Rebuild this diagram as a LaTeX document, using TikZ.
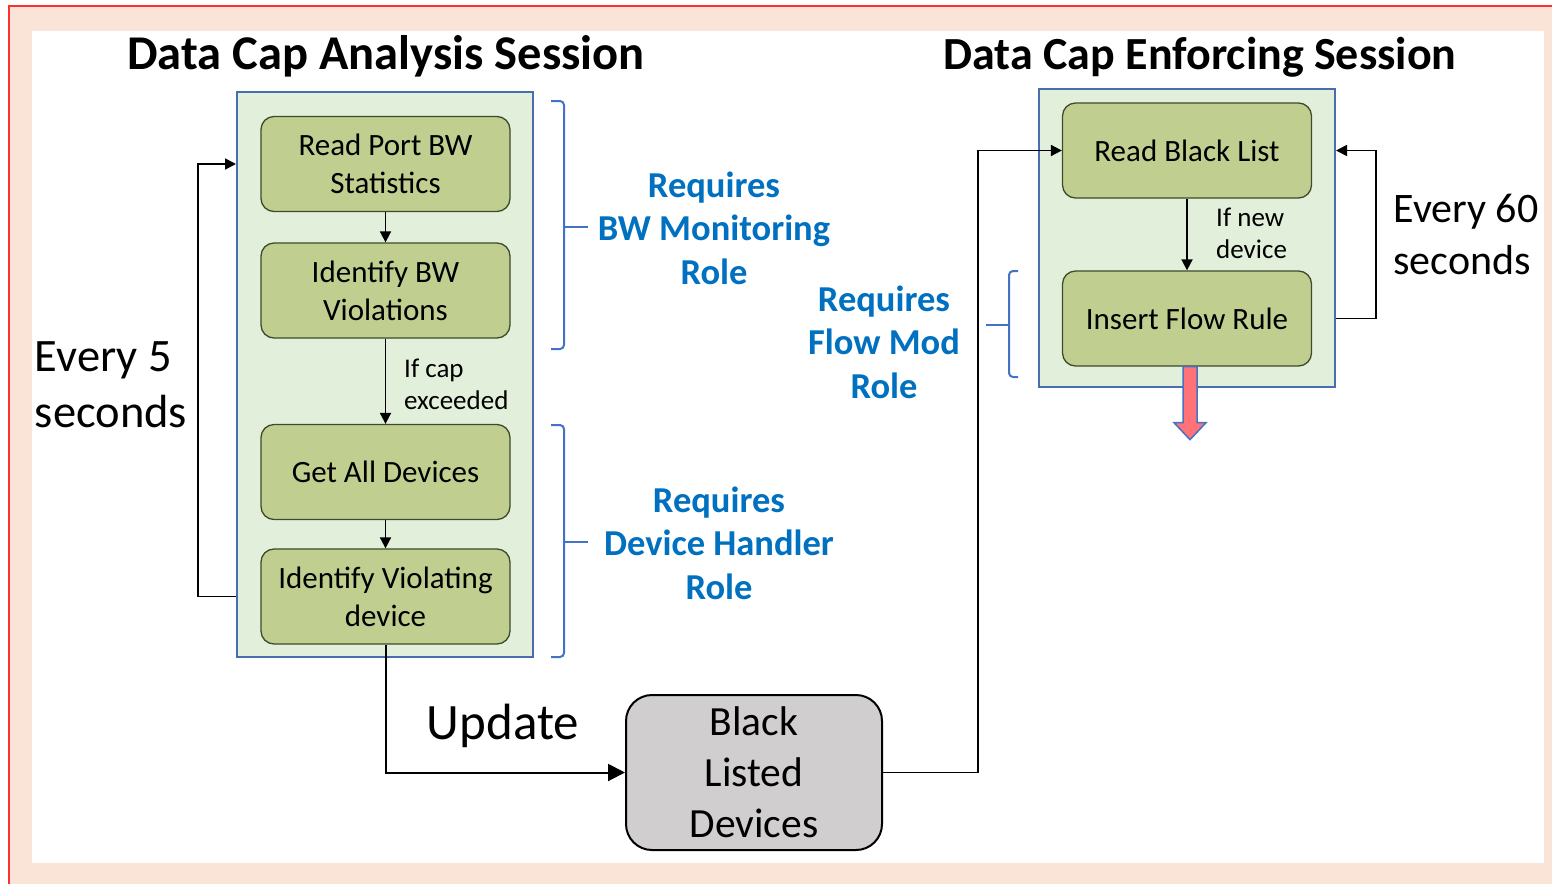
\documentclass[tikz,border=0pt]{standalone}
\usepackage{fontspec}
\setmainfont{Carlito}
\usetikzlibrary{arrows.meta,calc}

\definecolor{peach}{HTML}{F9E4D7}
\definecolor{frame}{HTML}{FF3030}
\definecolor{panel}{HTML}{E2EFDA}
\definecolor{panelline}{HTML}{4A6DB0}
\definecolor{stepfill}{HTML}{C0CF8F}
\definecolor{stepline}{HTML}{3E4A2C}
\definecolor{rolecol}{HTML}{0070C0}
\definecolor{bracecol}{HTML}{4472C4}
\definecolor{storefill}{HTML}{D0CECE}
\definecolor{outfill}{HTML}{FF7378}

\tikzset{
  panelbox/.style={draw=panelline, line width=2pt, fill=panel, inner sep=0pt},
  stepbox/.style={draw=stepline, line width=1.3pt, fill=stepfill, rounded corners=13pt,
    minimum width=249pt, minimum height=95pt, align=center, font=\fontsize{31}{38}\selectfont, inner sep=0pt},
  storebox/.style={draw=black, line width=2pt, fill=storefill, rounded corners=26pt,
    minimum width=256pt, minimum height=155pt, align=center, font=\fontsize{41.5}{51}\selectfont, inner sep=0pt},
  flow/.style={line width=1.8pt, -{Triangle[length=11pt,width=11pt]}},
  bigflow/.style={line width=2pt, -{Triangle[length=17pt,width=17pt]}},
  rolebrace/.style={draw=bracecol, line width=2pt, rounded corners=4pt},
  roletext/.style={text=rolecol, font=\bfseries\fontsize{36.5}{43.5}\selectfont, align=center},
  period/.style={align=left},
  cond/.style={font=\fontsize{27}{32}\selectfont, align=left, inner sep=0pt},
}

\begin{document}
\begin{tikzpicture}[x=1pt, y=-1pt]
  % page frame
  \useasboundingbox (0,0) rectangle (1552,884);
  \fill[white] (0,0) rectangle (1552,884);
  \fill[peach] (9,6) rectangle (1552,884);
  \draw[frame, line width=2pt] (9,884) -- (9,6) -- (1552,6);
  \fill[white] (32,31) rectangle (1544,863);

  % session titles
  \node[font=\bfseries\fontsize{48.5}{50}\selectfont] (t1) at (386,56) {Data Cap Analysis Session};
  \node[font=\bfseries\fontsize{46}{50}\selectfont] (t2) at (1200,57) {Data Cap Enforcing Session};

  % analysis session
  \node[panelbox, minimum width=296pt, minimum height=565pt] (lp) at (385,374.5) {};
  \node[stepbox] (b1) at (385.5,164) {Read Port BW\\Statistics};
  \node[stepbox] (b2) at (385.5,290.5) {Identify BW\\Violations};
  \node[stepbox] (b3) at (385.5,472) {Get All Devices};
  \node[stepbox] (b4) at (385.5,596.5) {Identify Violating\\device};

  \draw[flow] (b1) -- (b2);
  \draw[flow] (b2) -- (b3);
  \draw[flow] (b3) -- (b4);
  \node[cond, anchor=west] (c1) at (404,384) {If cap\\exceeded};

  \draw[flow] (lp.west |- b4) -- ++(-38,0) |- (lp.west |- b1);
  \node[period, font=\fontsize{46.5}{56}\selectfont] (p1) at (111,385) {Every 5\\seconds};

  % enforcing session
  \node[panelbox, minimum width=296pt, minimum height=298pt] (rp) at (1187,238) {};
  \node[stepbox] (r1) at (1187,150.5) {Read Black List};
  \node[stepbox] (r2) at (1187,318.5) {Insert Flow Rule};

  \draw[flow] (r1) -- (r2);
  \node[cond, anchor=west] (c2) at (1216,233) {If new\\device};

  \draw[flow] (rp.east |- r2) -- ++(40,0) |- (rp.east |- r1);
  \node[period, font=\fontsize{42}{52}\selectfont] (p2) at (1466,234) {Every 60\\seconds};

  % output of the rule insertion
  \draw[draw=bracecol, fill=outfill, line width=1.5pt]
    ($(r2.south)+(-4,0)$) -- ++(0,56) -- ++(-9,0) -- ($(r2.south)+(3,73)$)
    -- ++(16,-17) -- ++(-9,0) -- ($(r2.south)+(10,0)$) -- cycle;

  % black list store
  \node[storebox] (bl) at (754,772.5) {Black\\Listed\\Devices};
  \draw[bigflow] (b4) |- (bl);
  \node[font=\fontsize{51}{52}\selectfont] (up) at (503,726) {Update};
  \draw[flow] (bl.east) -- ++(95,0) |- (r1.west);

  % role braces
  \draw[rolebrace] (551,101) -- (564,101) -- (564,349) -- (551,349);
  \draw[rolebrace] (564,227) -- (588,227);
  \node[roletext] (role1) at (714,228) {Requires\\BW Monitoring\\Role};

  \draw[rolebrace] (551,425) -- (564,425) -- (564,657) -- (551,657);
  \draw[rolebrace] (564,542) -- (588,542);
  \node[roletext] (role2) at (719,543) {Requires\\Device Handler\\Role};

  \draw[rolebrace] (1018,271) -- (1009,271) -- (1009,377) -- (1018,377);
  \draw[rolebrace] (1009,325) -- (986,325);
  \node[roletext] (role3) at (884,342) {Requires\\Flow Mod\\Role};
\end{tikzpicture}
\end{document}
